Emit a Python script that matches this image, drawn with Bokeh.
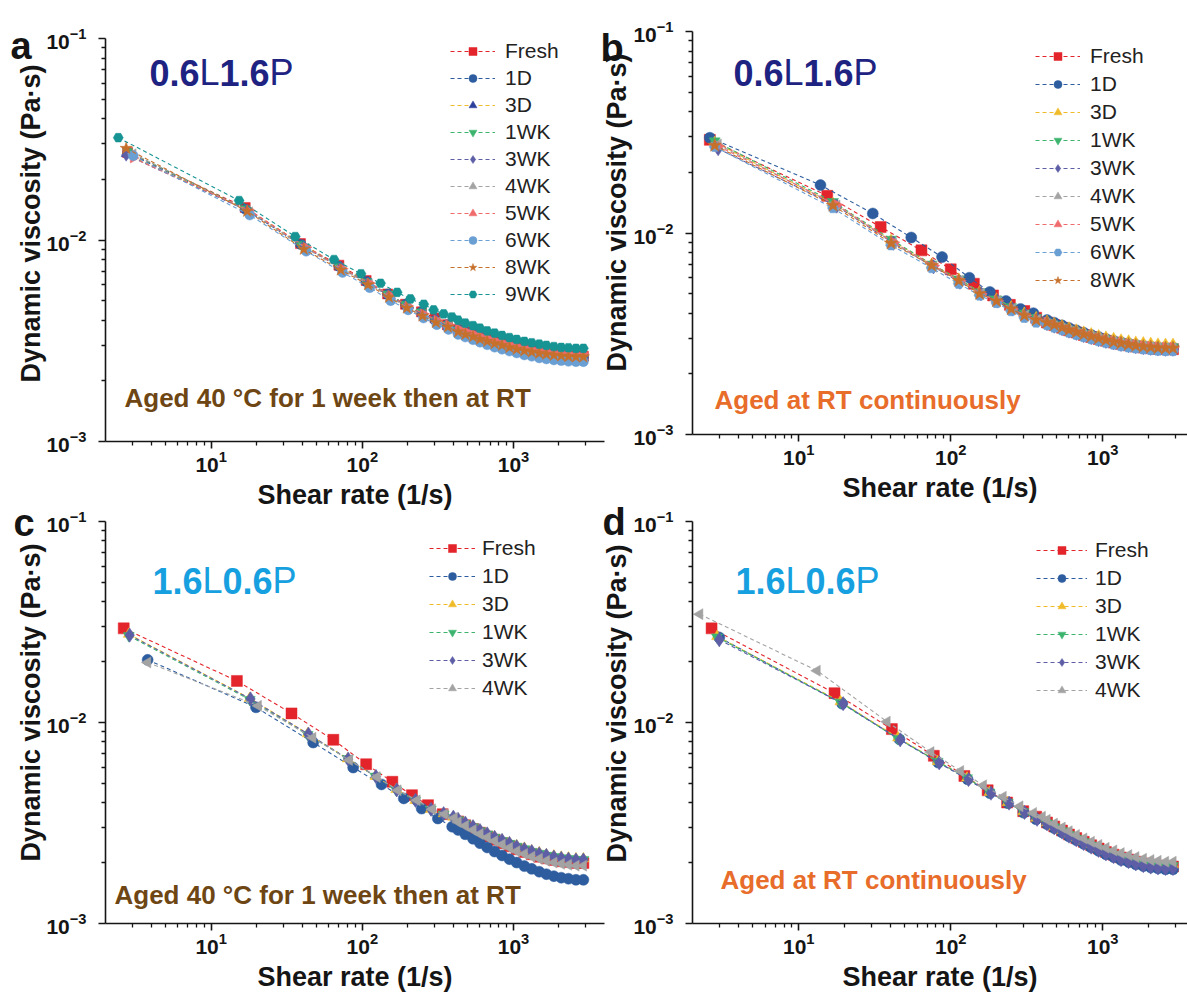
import math
from bokeh.plotting import figure
from bokeh.models import Range1d, FixedTicker, LogTickFormatter, Legend, LegendItem, Label
from bokeh.layouts import row, column
from bokeh.embed import file_html
from bokeh.resources import INLINE

FONT = "Liberation Sans"
INK = "#151515"
NAVY = "#1e2382"
SKY = "#17a0e0"
BROWN = "#6e4614"
ORANGE = "#e86c2a"

# shared dense shear-rate points (1/s) of the high-rate part of every run
HIGH_RATE = [430, 480, 540, 600, 670, 750, 840, 940, 1050, 1180, 1320, 1480, 1650, 1850, 2070, 2310, 2590, 2900]

# ---------------- panel a : 0.6L1.6P, aged 40 C for 1 week then RT
A_RATE_1 = [2.8, 16.8, 39, 70, 106, 147, 193, 246, 303, 365]
A_RATE_2 = [2.74, 17.3, 41, 72, 109, 150, 197, 250, 307, 368]
A_RATE_3 = [3.05, 18, 42.5, 74, 112, 154, 201, 254, 311, 372]
A_RATE_4 = [2.43, 15.3, 36, 65, 98, 132, 170, 208, 255, 296, 345, 392]
A_FRESH = [0.0272, 0.0145, 0.0096, 0.0075, 0.0063, 0.0054, 0.0048, 0.0044, 0.0041, 0.0038,
           0.00360, 0.00349, 0.00339, 0.00329, 0.00321, 0.00312, 0.00305, 0.00298, 0.00292, 0.00286, 0.00281, 0.00277, 0.00273, 0.00270, 0.00268, 0.00266, 0.00265, 0.00265]
A_1D = [0.0270, 0.0142, 0.0095, 0.0074, 0.0062, 0.0054, 0.0048, 0.0044, 0.0040, 0.0038,
        0.00360, 0.00349, 0.00338, 0.00328, 0.00319, 0.00311, 0.00303, 0.00296, 0.00289, 0.00284, 0.00279, 0.00274, 0.00271, 0.00267, 0.00265, 0.00263, 0.00262, 0.00262]
A_3D = [0.0268, 0.0141, 0.0094, 0.0073, 0.0062, 0.0053, 0.0047, 0.0043, 0.0040, 0.0037,
        0.00355, 0.00344, 0.00334, 0.00324, 0.00316, 0.00307, 0.00300, 0.00293, 0.00287, 0.00281, 0.00276, 0.00272, 0.00268, 0.00265, 0.00263, 0.00261, 0.00260, 0.00260]
A_1WK = [0.0275, 0.0143, 0.0095, 0.0074, 0.0062, 0.0054, 0.0048, 0.0044, 0.0040, 0.0038,
         0.00358, 0.00347, 0.00337, 0.00327, 0.00318, 0.00309, 0.00302, 0.00295, 0.00288, 0.00282, 0.00277, 0.00273, 0.00269, 0.00266, 0.00264, 0.00262, 0.00261, 0.00261]
A_3WK = [0.0265, 0.0140, 0.0093, 0.0073, 0.0061, 0.0053, 0.0047, 0.0043, 0.0040, 0.0037,
         0.00355, 0.00344, 0.00334, 0.00324, 0.00315, 0.00306, 0.00299, 0.00292, 0.00285, 0.00279, 0.00274, 0.00270, 0.00266, 0.00263, 0.00261, 0.00259, 0.00258, 0.00258]
A_4WK = [0.0268, 0.0138, 0.0091, 0.0071, 0.0060, 0.0052, 0.0046, 0.0042, 0.0039, 0.0037,
         0.00350, 0.00340, 0.00330, 0.00320, 0.00312, 0.00304, 0.00297, 0.00290, 0.00284, 0.00278, 0.00274, 0.00270, 0.00266, 0.00263, 0.00261, 0.00259, 0.00258, 0.00258]
A_5WK = [0.0255, 0.0140, 0.0092, 0.0072, 0.0061, 0.0053, 0.0047, 0.0043, 0.0040, 0.0038,
         0.00365, 0.00355, 0.00345, 0.00335, 0.00327, 0.00319, 0.00312, 0.00305, 0.00299, 0.00293, 0.00289, 0.00285, 0.00281, 0.00278, 0.00276, 0.00274, 0.00273, 0.00273]
A_6WK = [0.0262, 0.0133, 0.0088, 0.0069, 0.0058, 0.0050, 0.0045, 0.0041, 0.0038, 0.0036,
         0.00340, 0.00330, 0.00320, 0.00311, 0.00302, 0.00294, 0.00287, 0.00281, 0.00275, 0.00269, 0.00265, 0.00260, 0.00257, 0.00254, 0.00252, 0.00250, 0.00249, 0.00249]
A_8WK = [0.0285, 0.0139, 0.0090, 0.0071, 0.0060, 0.0052, 0.0046, 0.0042, 0.0039, 0.0037,
         0.00350, 0.00340, 0.00331, 0.00322, 0.00314, 0.00306, 0.00300, 0.00293, 0.00287, 0.00282, 0.00278, 0.00274, 0.00271, 0.00268, 0.00266, 0.00264, 0.00263, 0.00263]
A_9WK = [0.0322, 0.0157, 0.0104, 0.0080, 0.0068, 0.0061, 0.0055, 0.0051, 0.0048, 0.0045, 0.0043, 0.00415,
         0.00400, 0.00387, 0.00376, 0.00365, 0.00354, 0.00345, 0.00336, 0.00328, 0.00321, 0.00314, 0.00309, 0.00304, 0.00300, 0.00296, 0.00293, 0.00292, 0.00290, 0.00290]

# ---------------- panel b : 0.6L1.6P, aged at RT
B_RATE_FRESH = [2.6, 15.4, 34.6, 64.2, 100, 142, 190, 245, 305, 365]
B_RATE_1D = [2.6, 13.9, 30.7, 55, 87.7, 132.6, 181, 231, 288, 350]
B_RATE_1 = [2.8, 16.8, 40.5, 75, 113, 155, 200, 250, 305, 365]
B_RATE_2 = [2.95, 17.8, 42, 77, 115, 158, 203, 254, 310, 370]
B_FRESH = [0.0290, 0.0153, 0.0107, 0.0082, 0.0066, 0.0056, 0.0049, 0.0044, 0.0041, 0.0038,
           0.00360, 0.00349, 0.00339, 0.00329, 0.00321, 0.00312, 0.00305, 0.00298, 0.00292, 0.00286, 0.00281, 0.00277, 0.00273, 0.00270, 0.00268, 0.00266, 0.00265, 0.00265]
B_1D = [0.0297, 0.0173, 0.0125, 0.0095, 0.0076, 0.0060, 0.0051, 0.0046, 0.0042, 0.0040,
        0.00370, 0.00359, 0.00348, 0.00338, 0.00329, 0.00320, 0.00312, 0.00305, 0.00298, 0.00292, 0.00287, 0.00283, 0.00279, 0.00276, 0.00273, 0.00271, 0.00270, 0.00270]
B_3D = [0.0282, 0.0140, 0.0092, 0.0070, 0.0059, 0.0051, 0.0047, 0.0043, 0.0040, 0.0038,
        0.00365, 0.00355, 0.00346, 0.00338, 0.00330, 0.00322, 0.00316, 0.00309, 0.00304, 0.00299, 0.00294, 0.00291, 0.00287, 0.00285, 0.00283, 0.00281, 0.00280, 0.00280]
B_1WK = [0.0286, 0.0143, 0.0093, 0.0070, 0.0059, 0.0051, 0.0047, 0.0043, 0.0040, 0.0038,
         0.00360, 0.00350, 0.00341, 0.00332, 0.00324, 0.00316, 0.00309, 0.00302, 0.00297, 0.00291, 0.00287, 0.00283, 0.00280, 0.00277, 0.00275, 0.00273, 0.00272, 0.00272]
B_3WK = [0.0262, 0.0136, 0.0089, 0.0068, 0.0057, 0.0050, 0.0046, 0.0042, 0.0039, 0.0037,
         0.00355, 0.00345, 0.00335, 0.00326, 0.00318, 0.00310, 0.00303, 0.00296, 0.00290, 0.00285, 0.00280, 0.00276, 0.00273, 0.00270, 0.00268, 0.00266, 0.00265, 0.00265]
B_4WK = [0.0275, 0.0137, 0.0089, 0.0068, 0.0058, 0.0050, 0.0046, 0.0042, 0.0039, 0.0037,
         0.00355, 0.00345, 0.00336, 0.00327, 0.00319, 0.00311, 0.00305, 0.00298, 0.00292, 0.00287, 0.00283, 0.00279, 0.00276, 0.00273, 0.00271, 0.00269, 0.00268, 0.00268]
B_5WK = [0.0270, 0.0138, 0.0090, 0.0069, 0.0058, 0.0050, 0.0046, 0.0042, 0.0039, 0.0037,
         0.00360, 0.00350, 0.00340, 0.00331, 0.00323, 0.00315, 0.00308, 0.00301, 0.00295, 0.00290, 0.00285, 0.00281, 0.00278, 0.00275, 0.00273, 0.00271, 0.00270, 0.00270]
B_6WK = [0.0268, 0.0133, 0.0087, 0.0067, 0.0056, 0.0049, 0.0045, 0.0041, 0.0038, 0.0036,
         0.00350, 0.00340, 0.00330, 0.00321, 0.00313, 0.00305, 0.00298, 0.00291, 0.00285, 0.00280, 0.00275, 0.00271, 0.00268, 0.00265, 0.00263, 0.00261, 0.00260, 0.00260]
B_8WK = [0.0272, 0.0137, 0.0089, 0.0069, 0.0058, 0.0050, 0.0046, 0.0042, 0.0039, 0.0037,
         0.00360, 0.00350, 0.00340, 0.00330, 0.00322, 0.00314, 0.00307, 0.00300, 0.00294, 0.00288, 0.00284, 0.00280, 0.00276, 0.00273, 0.00271, 0.00269, 0.00268, 0.00268]

# ---------------- panel c : 1.6L0.6P, aged 40 C for 1 week then RT
C_RATE_FRESH = [2.64, 14.8, 34, 64.3, 106, 158, 213, 272, 340]
C_RATE_1D = [3.8, 19.8, 47.3, 87, 134, 188, 247, 316, 393]
C_RATE_3D = [2.85, 18, 43.5, 80, 122, 168, 224, 284, 345, 400]
C_RATE_3WK = [2.89, 18.2, 44, 80.6, 123, 169, 225, 285, 345, 400]
C_RATE_4WK = [3.8, 20.5, 47, 82, 125, 172, 230, 290, 350, 405]
C_FRESH = [0.0294, 0.0161, 0.0111, 0.0082, 0.0062, 0.00507, 0.00435, 0.00388, 0.0035,
           0.00322, 0.00308, 0.00295, 0.00283, 0.00271, 0.00261, 0.00251, 0.00242, 0.00234, 0.00227, 0.00221, 0.00215, 0.00211, 0.00207, 0.00204, 0.00202, 0.00200, 0.00200]
C_1D = [0.0205, 0.0119, 0.00795, 0.00597, 0.00492, 0.00419, 0.00373, 0.00333, 0.00303,
        0.00292, 0.00278, 0.00264, 0.00251, 0.00239, 0.00228, 0.00218, 0.00209, 0.00201, 0.00193, 0.00187, 0.00181, 0.00176, 0.00172, 0.00169, 0.00167, 0.00165, 0.00165]
C_3D = [0.0275, 0.0132, 0.0088, 0.0066, 0.0054, 0.00465, 0.0041, 0.0037, 0.00352, 0.00338,
        0.00330, 0.00316, 0.00304, 0.00291, 0.00280, 0.00270, 0.00260, 0.00252, 0.00244, 0.00237, 0.00230, 0.00225, 0.00220, 0.00217, 0.00214, 0.00212, 0.00210, 0.00210]
C_1WK = [0.0270, 0.0130, 0.0087, 0.0066, 0.0054, 0.0046, 0.0041, 0.0037, 0.0035, 0.00336,
         0.00328, 0.00314, 0.00302, 0.00289, 0.00278, 0.00268, 0.00258, 0.00250, 0.00242, 0.00235, 0.00228, 0.00223, 0.00218, 0.00215, 0.00212, 0.00210, 0.00208, 0.00208]
C_3WK = [0.0272, 0.0131, 0.00875, 0.00658, 0.00539, 0.00462, 0.0041, 0.0037, 0.00352, 0.00338,
         0.00330, 0.00316, 0.00303, 0.00290, 0.00279, 0.00268, 0.00259, 0.00250, 0.00241, 0.00234, 0.00228, 0.00222, 0.00218, 0.00214, 0.00211, 0.00209, 0.00207, 0.00207]
C_4WK = [0.0199, 0.0121, 0.0084, 0.0065, 0.00535, 0.0046, 0.0041, 0.0037, 0.0035, 0.00335,
         0.00320, 0.00306, 0.00292, 0.00279, 0.00268, 0.00257, 0.00247, 0.00238, 0.00229, 0.00222, 0.00215, 0.00210, 0.00205, 0.00201, 0.00198, 0.00196, 0.00194, 0.00194]

# ---------------- panel d : 1.6L0.6P, aged at RT
D_RATE_FRESH = [2.67, 17.2, 41, 77.4, 123, 175, 235, 300, 365]
D_RATE_1D = [3.0, 19.3, 45.9, 82.8, 129, 181, 238, 302, 365]
D_RATE_3D = [2.9, 18.8, 45, 82, 128, 180, 237, 300, 365]
D_RATE_3WK = [3.0, 19.6, 46.5, 84, 131, 184, 242, 306, 370]
D_RATE_4WK = [2.23, 13.2, 38.1, 74, 116, 164, 221, 285, 350, 400]
D_FRESH = [0.0294, 0.0140, 0.00927, 0.00683, 0.00542, 0.0046, 0.0040, 0.00362, 0.0034,
           0.00318, 0.00304, 0.00290, 0.00277, 0.00266, 0.00255, 0.00245, 0.00236, 0.00227, 0.00220, 0.00213, 0.00208, 0.00203, 0.00199, 0.00196, 0.00194, 0.00192, 0.00192]
D_1D = [0.0265, 0.0124, 0.00826, 0.00632, 0.00522, 0.00445, 0.00397, 0.00356, 0.0033,
        0.00312, 0.00298, 0.00284, 0.00271, 0.00260, 0.00249, 0.00239, 0.00230, 0.00221, 0.00214, 0.00207, 0.00202, 0.00197, 0.00193, 0.00190, 0.00188, 0.00186, 0.00186]
D_3D = [0.0268, 0.0127, 0.0084, 0.0064, 0.0053, 0.0045, 0.0040, 0.0036, 0.00335,
        0.00318, 0.00304, 0.00291, 0.00279, 0.00267, 0.00257, 0.00247, 0.00238, 0.00230, 0.00223, 0.00217, 0.00211, 0.00207, 0.00203, 0.00200, 0.00198, 0.00196, 0.00196]
D_1WK = [0.0266, 0.0126, 0.0083, 0.0064, 0.0053, 0.0045, 0.0040, 0.0036, 0.00334,
         0.00316, 0.00302, 0.00289, 0.00277, 0.00265, 0.00255, 0.00245, 0.00236, 0.00228, 0.00221, 0.00215, 0.00209, 0.00205, 0.00201, 0.00198, 0.00196, 0.00194, 0.00194]
D_3WK = [0.0258, 0.0124, 0.0082, 0.0063, 0.0052, 0.00445, 0.00397, 0.00357, 0.0033,
         0.00313, 0.00299, 0.00285, 0.00272, 0.00261, 0.00250, 0.00240, 0.00231, 0.00222, 0.00215, 0.00208, 0.00203, 0.00198, 0.00194, 0.00191, 0.00189, 0.00188, 0.00188]
D_4WK = [0.0346, 0.0181, 0.0101, 0.00713, 0.00574, 0.00487, 0.00427, 0.00383, 0.00355, 0.0034,
         0.00328, 0.00314, 0.00300, 0.00288, 0.00276, 0.00265, 0.00255, 0.00246, 0.00238, 0.00231, 0.00224, 0.00219, 0.00214, 0.00210, 0.00207, 0.00205, 0.00203, 0.00203]

X_MAJOR = [10, 100, 1000]
X_MINOR = [3, 4, 5, 6, 7, 8, 9, 20, 30, 40, 50, 60, 70, 80, 90,
           200, 300, 400, 500, 600, 700, 800, 900, 2000, 3000]
Y_MAJOR = [0.001, 0.01, 0.1]
Y_MINOR = [0.002, 0.003, 0.004, 0.005, 0.006, 0.007, 0.008, 0.009,
           0.02, 0.03, 0.04, 0.05, 0.06, 0.07, 0.08, 0.09]

RED, BLUE, YEL, GRN, PUR, GRY, SAL, LBL, ORG, TEAL = (
    "#e3242b", "#2d5d9f", "#f0bb28", "#3cb46e", "#5d5ea6",
    "#a3a3a3", "#f06b6b", "#6a9fd4", "#c7702c", "#169393")
LEFT, RIGHT = math.pi / 2, -math.pi / 2


def panel(series, x_end, borders, frame_h, frame_w, legend_xy, glyph_w, standoff, msize, spacing=4):
    left, right, top, bottom = borders
    p = figure(x_axis_type="log", y_axis_type="log",
               x_range=Range1d(2, x_end), y_range=Range1d(0.001, 0.1),
               frame_width=frame_w, frame_height=frame_h,
               min_border_left=left, min_border_right=right,
               min_border_top=top, min_border_bottom=bottom,
               output_backend="svg", toolbar_location=None)
    p.background_fill_alpha = 0
    p.border_fill_alpha = 0
    p.outline_line_color = None
    p.grid.visible = False
    p.xaxis.ticker = FixedTicker(ticks=X_MAJOR, minor_ticks=X_MINOR)
    p.yaxis.ticker = FixedTicker(ticks=Y_MAJOR, minor_ticks=Y_MINOR)
    p.xaxis.formatter = LogTickFormatter()
    p.yaxis.formatter = LogTickFormatter()
    for ax in (p.xaxis[0], p.yaxis[0]):
        ax.axis_line_color = INK
        ax.axis_line_width = 1.6
        ax.major_tick_line_color = INK
        ax.major_tick_line_width = 1.6
        ax.minor_tick_line_color = INK
        ax.minor_tick_line_width = 1.3
        ax.major_tick_in = 0
        ax.major_tick_out = 7
        ax.minor_tick_in = 0
        ax.minor_tick_out = 4
        ax.major_label_text_font = FONT
        ax.major_label_text_font_style = "bold"
        ax.major_label_text_font_size = "21px"
        ax.major_label_text_color = INK
    p.yaxis.major_label_standoff = 12
    p.xaxis.major_label_standoff = 2
    p.xaxis.axis_label = "Shear rate (1/s)"
    p.xaxis.axis_label_text_font = FONT
    p.xaxis.axis_label_text_font_style = "bold"
    p.xaxis.axis_label_text_font_size = "27px"
    p.xaxis.axis_label_text_color = INK
    p.xaxis.axis_label_standoff = 5

    items = []
    for name, rates, visc, mk, ang, fill, col in series:
        xs = list(rates) + HIGH_RATE
        assert len(xs) == len(visc), name
        lr = p.line(xs, visc, line_color=col, line_width=1.1, line_dash="4 3")
        sz = msize * (1.3 if mk in ("diamond", "star") else 1.0)
        sr = p.scatter(xs, visc, marker=mk, angle=ang, size=sz,
                       fill_color=fill, line_color=fill, line_width=0.5)
        items.append(LegendItem(label=name, renderers=[lr, sr]))
    leg = Legend(items=items, location=legend_xy, orientation="vertical",
                 glyph_width=glyph_w, glyph_height=20, label_standoff=standoff,
                 spacing=spacing, padding=0, margin=0, border_line_color=None,
                 background_fill_alpha=0, label_text_font=FONT,
                 label_text_font_size="21px", label_text_color="#222222")
    p.add_layout(leg)
    return p


# ---- a
series_a = [
    ("Fresh", A_RATE_1, A_FRESH, "square", 0.0, RED, RED),
    ("1D", A_RATE_1, A_1D, "circle", 0.0, BLUE, BLUE),
    ("3D", A_RATE_2, A_3D, "triangle", 0.0, "#2b3f9c", YEL),
    ("1WK", A_RATE_1, A_1WK, "inverted_triangle", 0.0, GRN, GRN),
    ("3WK", A_RATE_2, A_3WK, "diamond", 0.0, PUR, PUR),
    ("4WK", A_RATE_3, A_4WK, "triangle", LEFT, GRY, GRY),
    ("5WK", A_RATE_3, A_5WK, "triangle", RIGHT, SAL, SAL),
    ("6WK", A_RATE_3, A_6WK, "circle", 0.0, LBL, LBL),
    ("8WK", A_RATE_2, A_8WK, "star", 0.0, ORG, ORG),
    ("9WK", A_RATE_4, A_9WK, "hex", 0.0, TEAL, TEAL),
]
pa = panel(series_a, 4000, (105, 16, 38, 69), 403, 499, (345, 135), 45, 10, 10, spacing=3)

# ---- b
series_b = [
    ("Fresh", B_RATE_FRESH, B_FRESH, "square", 0.0, RED, RED),
    ("1D", B_RATE_1D, B_1D, "circle", 0.0, BLUE, BLUE),
    ("3D", B_RATE_1, B_3D, "triangle", 0.0, YEL, YEL),
    ("1WK", B_RATE_1, B_1WK, "inverted_triangle", 0.0, GRN, GRN),
    ("3WK", B_RATE_2, B_3WK, "diamond", 0.0, PUR, PUR),
    ("4WK", B_RATE_2, B_4WK, "triangle", LEFT, GRY, GRY),
    ("5WK", B_RATE_2, B_5WK, "triangle", RIGHT, SAL, SAL),
    ("6WK", B_RATE_1, B_6WK, "hex", 0.0, LBL, LBL),
    ("8WK", B_RATE_1, B_8WK, "star", 0.0, ORG, ORG),
]
pb = panel(series_b, 3613, (92, 0, 38, 69), 403, 495, (343, 142), 45, 10, 11)

# ---- c
series_c = [
    ("Fresh", C_RATE_FRESH, C_FRESH, "square", 0.0, RED, RED),
    ("1D", C_RATE_1D, C_1D, "circle", 0.0, BLUE, BLUE),
    ("3D", C_RATE_3D, C_3D, "triangle", 0.0, YEL, YEL),
    ("1WK", C_RATE_3D, C_1WK, "inverted_triangle", 0.0, GRN, GRN),
    ("3WK", C_RATE_3WK, C_3WK, "diamond", 0.0, PUR, PUR),
    ("4WK", C_RATE_4WK, C_4WK, "triangle", LEFT, GRY, GRY),
]
pc = panel(series_c, 4000, (105, 16, 24, 78), 402, 499, (324, 223), 46, 7, 11)

# ---- d
series_d = [
    ("Fresh", D_RATE_FRESH, D_FRESH, "square", 0.0, RED, RED),
    ("1D", D_RATE_1D, D_1D, "circle", 0.0, BLUE, BLUE),
    ("3D", D_RATE_3D, D_3D, "triangle", 0.0, YEL, YEL),
    ("1WK", D_RATE_3D, D_1WK, "inverted_triangle", 0.0, GRN, GRN),
    ("3WK", D_RATE_3WK, D_3WK, "diamond", 0.0, PUR, PUR),
    ("4WK", D_RATE_4WK, D_4WK, "triangle", LEFT, GRY, GRY),
]
pd_ = panel(series_d, 3613, (92, 0, 24, 78), 402, 495, (344, 221), 51, 8, 11)

# ---- transparent overlay page for the free texts (pixel coordinates from top-left)
ov = figure(width=1187, height=999, x_range=Range1d(0, 1187), y_range=Range1d(999, 0),
            min_border=0, x_axis_location=None, y_axis_location=None,
            output_backend="svg", toolbar_location=None)
ov.outline_line_color = None
ov.background_fill_alpha = 0
ov.border_fill_alpha = 0
ov.grid.visible = False


def add_text(x, y, text, size, color, bold=True, angle=0.0, align="left", baseline="alphabetic"):
    ov.add_layout(Label(x=x, y=y, text=text, text_font=FONT, text_font_size=size,
                        text_font_style="bold" if bold else "normal",
                        text_color=color, angle=angle, text_align=align,
                        text_baseline=baseline))


def sample_name(x, y, first, second, color):
    # numbers bold, letters regular
    add_text(x, y, first, "36px", color, True)
    add_text(x + 50, y, "L", "36px", color, False)
    add_text(x + 70, y, second, "36px", color, True)
    add_text(x + 120, y, "P", "36px", color, False)


YLABEL = "Dynamic viscosity (Pa\u00b7s)"
AGED_40 = "Aged 40 \u00b0C for 1 week then at RT"
AGED_RT = "Aged at RT continuously"

add_text(10, 43, "a", "38px", INK)
add_text(600, 45, "b", "38px", INK)
add_text(13, 520, "c", "38px", INK)
add_text(602, 519, "d", "38px", INK)
sample_name(149, 70, "0.6", "1.6", NAVY)
sample_name(733, 70, "0.6", "1.6", NAVY)
sample_name(152, 578, "1.6", "0.6", SKY)
sample_name(735, 578, "1.6", "0.6", SKY)
add_text(124, 395, AGED_40, "26px", BROWN)
add_text(714, 397, AGED_RT, "26px", ORANGE)
add_text(114, 892, AGED_40, "26px", BROWN)
add_text(720, 877, AGED_RT, "26px", ORANGE)
add_text(30, 221, YLABEL, "27px", INK, True, LEFT, "center", "middle")
add_text(616, 210, YLABEL, "27px", INK, True, LEFT, "center", "middle")
add_text(30, 700, YLABEL, "27px", INK, True, LEFT, "center", "middle")
add_text(616, 701, YLABEL, "27px", INK, True, LEFT, "center", "middle")

pb.margin = (-7, 0, 0, -20)
pd_.margin = (0, 0, 0, -20)
top_row = row(pa, pb)
bottom_row = row(pc, pd_)
bottom_row.margin = (-15, 0, 0, 0)
ov.margin = (-999, 0, 0, 0)
layout = column(top_row, bottom_row, ov)

open("out.html", "w").write(file_html(layout, INLINE))
